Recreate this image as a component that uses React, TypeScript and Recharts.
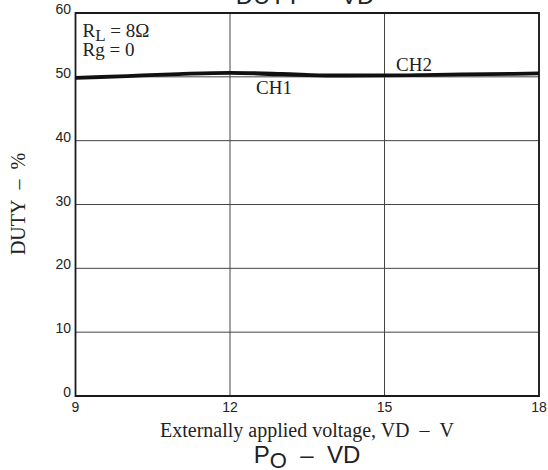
import { LineChart, Line, XAxis, YAxis, CartesianGrid, ReferenceArea } from "recharts";

const voltages = [9, 10, 11, 12, 13, 14, 15, 16, 17, 18];
const ch1Duty = [49.75, 50.05, 50.35, 50.55, 50.3, 50.1, 50.15, 50.25, 50.35, 50.45];
const ch2Duty = [49.9, 50.2, 50.5, 50.7, 50.55, 50.3, 50.3, 50.4, 50.5, 50.6];
const xTicks = [9, 12, 15, 18];
const yTicks = [0, 10, 20, 30, 40, 50, 60];

const data = voltages.map((v, i) => ({ vd: v, ch1: ch1Duty[i], ch2: ch2Duty[i] }));

const sans = "'Liberation Sans', Arial, sans-serif";
const serif = "'Liberation Serif', 'Times New Roman', serif";
const ink = "#222";
const gap = "\u00a0\u00a0";

function XTick(props: any) {
  const { x, y, payload } = props;
  return (
    <text x={x} y={y + 16} textAnchor="middle" fontFamily={sans} fontSize={14} fill={ink}>
      {payload.value}
    </text>
  );
}

function YTick(props: any) {
  const { x, y, payload } = props;
  return (
    <text x={x} y={y + 1} textAnchor="end" fontFamily={sans} fontSize={14} fill={ink}>
      {payload.value}
    </text>
  );
}

export default function App() {
  return (
    <div style={{ width: 548, height: 470, background: "#fff" }}>
      <style>{"body{margin:0}"}</style>
      <LineChart
        width={548}
        height={470}
        data={data}
        margin={{ top: 13, right: 9, bottom: 44, left: 15.5 }}
      >
        <CartesianGrid stroke="#444" strokeWidth={1} />
        <XAxis
          dataKey="vd"
          type="number"
          domain={[9, 18]}
          ticks={xTicks}
          axisLine={false}
          tickLine={false}
          tickSize={0}
          tickMargin={0}
          height={30}
          tick={<XTick />}
        />
        <YAxis
          type="number"
          domain={[0, 60]}
          ticks={yTicks}
          axisLine={false}
          tickLine={false}
          tickSize={0}
          tickMargin={4.5}
          width={60}
          tick={<YTick />}
        />
        <ReferenceArea x1={9} x2={18} y1={0} y2={60} fill="none" stroke="#1a1a1a" strokeWidth={1.8} ifOverflow="visible" />
        <Line type="monotone" dataKey="ch1" stroke="#111" strokeWidth={2.8} dot={false} isAnimationActive={false} />
        <Line type="monotone" dataKey="ch2" stroke="#111" strokeWidth={2.8} dot={false} isAnimationActive={false} />

        <text x={305} y={4} textAnchor="middle" fontFamily={sans} fontSize={24} fill={ink}>
          {`DUTY${gap}–${gap}VD`}
        </text>
        <text x={82.5} y={36.5} fontFamily={serif} fontSize={19} fill={ink}>
          R<tspan dy={4} fontSize={17}>L</tspan>
          <tspan dy={-4}>{"\u00a0= 8Ω"}</tspan>
        </text>
        <text x={82.5} y={56} fontFamily={serif} fontSize={19} fill={ink}>
          Rg = 0
        </text>
        <text x={256} y={94} fontFamily={serif} fontSize={19} fill={ink}>
          CH1
        </text>
        <text x={396} y={70.5} fontFamily={serif} fontSize={19} fill={ink}>
          CH2
        </text>
        <text
          x={18}
          y={204}
          transform="rotate(-90 18 204)"
          textAnchor="middle"
          dominantBaseline="central"
          fontFamily={serif}
          fontSize={20}
          fill={ink}
        >
          {`DUTY${gap}–${gap}%`}
        </text>
        <text x={307} y={437} textAnchor="middle" fontFamily={serif} fontSize={20} fill={ink}>
          {`Externally applied voltage, VD${gap}–${gap}V`}
        </text>
        <text x={307} y={463} textAnchor="middle" fontFamily={sans} fontSize={24} fill={ink}>
          P<tspan dy={5} fontSize={22}>O</tspan>
          <tspan dy={-5}>{`${gap}–${gap}VD`}</tspan>
        </text>
      </LineChart>
    </div>
  );
}
